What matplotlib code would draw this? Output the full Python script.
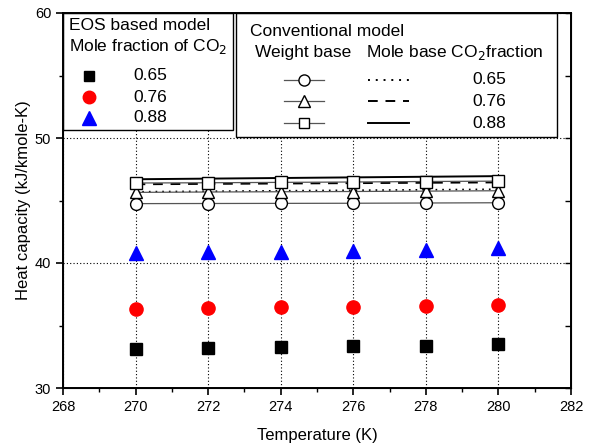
import numpy as np
import matplotlib.pyplot as plt
from matplotlib.patches import Rectangle
from matplotlib.lines import Line2D

plt.rcParams['font.family'] = ['Liberation Sans', 'DejaVu Sans']

temps = [270, 272, 274, 276, 278, 280]
fractions = ['0.65', '0.76', '0.88']

# EOS based model
eos_065 = [33.15, 33.2, 33.3, 33.35, 33.4, 33.5]
eos_076 = [36.3, 36.38, 36.45, 36.5, 36.6, 36.68]
eos_088 = [40.78, 40.85, 40.92, 41.0, 41.08, 41.17]

# Conventional model, weight base
wt_065 = [44.75, 44.76, 44.77, 44.78, 44.8, 44.82]
wt_076 = [45.65, 45.68, 45.7, 45.72, 45.75, 45.78]
wt_088 = [46.4, 46.42, 46.45, 46.48, 46.52, 46.55]

# Conventional model, mole base
mol_065 = [45.7, 45.74, 45.78, 45.82, 45.86, 45.9]
mol_076 = [46.3, 46.33, 46.36, 46.39, 46.42, 46.45]
mol_088 = [46.7, 46.75, 46.8, 46.85, 46.9, 46.95]


def main():
    fig = plt.figure(figsize=(5.89, 4.46), dpi=100)
    ax = fig.add_axes([63 / 589, 1 - 388 / 446, 508 / 589, 375 / 446])

    ax.set_xlim(268, 282)
    ax.set_ylim(30, 60)
    ax.set_xticks(np.arange(268, 283, 2))
    ax.set_xticks(np.arange(269, 282, 2), minor=True)
    ax.set_yticks([30, 40, 50, 60])
    ax.set_yticks([35, 45, 55], minor=True)
    ax.grid(True, which='major', linestyle=(0, (1, 2)), color='black', linewidth=0.8)
    ax.tick_params(which='major', direction='out', length=5, width=1.2, labelsize=10.5)
    ax.tick_params(which='minor', direction='out', length=3, width=1.0)
    for s in ax.spines.values():
        s.set_linewidth(1.4)
    ax.set_axisbelow(True)

    # inward ticks on the right edge
    ax2 = ax.twinx()
    ax2.set_ylim(30, 60)
    ax2.set_yticks([30, 40, 50, 60])
    ax2.set_yticks([35, 45, 55], minor=True)
    ax2.tick_params(which='both', direction='in', length=4, width=1.0,
                    labelright=False)

    ax.set_xlabel('Temperature (K)', fontsize=12, labelpad=10)
    ax.set_ylabel('Heat capacity (kJ/kmole-K)', fontsize=12, labelpad=3)

    # conventional model: mole base lines
    ax.plot(temps, mol_065, color='black', lw=1.2, linestyle=(0, (1, 3)))
    ax.plot(temps, mol_076, color='black', lw=1.4, linestyle=(0, (5, 4)))
    ax.plot(temps, mol_088, color='black', lw=1.4)

    # conventional model: weight base
    wkw = dict(color='#555555', lw=0.9, mfc='white', mec='black', mew=1.0)
    ax.plot(temps, wt_065, marker='o', ms=8.5, **wkw)
    ax.plot(temps, wt_076, marker='^', ms=9, **wkw)
    ax.plot(temps, wt_088, marker='s', ms=8, **wkw)

    # EOS based model
    ax.plot(temps, eos_065, 's', color='black', ms=8)
    ax.plot(temps, eos_076, 'o', color='red', ms=9.5)
    ax.plot(temps, eos_088, '^', color='blue', ms=10.5)

    # legend boxes drawn in axes fraction coords
    tr = ax.transAxes

    def fx(px):
        return (px - 63) / 508

    def fy(py):
        return (388 - py) / 375

    ax.add_patch(Rectangle((fx(63), fy(130)), fx(233) - fx(63), fy(13) - fy(130),
                           transform=tr, facecolor='white', edgecolor='black',
                           lw=1.0, zorder=5))
    ax.text(fx(69), fy(25), 'EOS based model', transform=tr, fontsize=12.5,
            va='center', zorder=6)
    ax.text(fx(69), fy(47), 'Mole fraction of CO$_2$', transform=tr, fontsize=12.5,
            va='center', zorder=6)
    eos_styles = [('s', 'black', 7.5), ('o', 'red', 9), ('^', 'blue', 10)]
    for (m, c, s), lab, py in zip(eos_styles, fractions, [76, 97, 118]):
        ax.add_line(Line2D([fx(89)], [fy(py)], marker=m, color=c, ms=s,
                           linestyle='none', transform=tr, zorder=6))
        ax.text(fx(133), fy(py), lab, transform=tr, fontsize=12.5,
                va='center', zorder=6)

    ax.add_patch(Rectangle((fx(236), fy(137)), fx(557) - fx(236), fy(13) - fy(137),
                           transform=tr, facecolor='white', edgecolor='black',
                           lw=1.0, zorder=5))
    ax.text(fx(250), fy(32), 'Conventional model', transform=tr, fontsize=12.5,
            va='center', zorder=6)
    ax.text(fx(255), fy(53), 'Weight base', transform=tr, fontsize=12.5,
            va='center', zorder=6)
    ax.text(fx(366), fy(53), 'Mole base CO$_2$fraction', transform=tr, fontsize=12.5,
            va='center', zorder=6)
    wmarks = [('o', 8), ('^', 8.5), ('s', 7)]
    mstyles = [(0, (1, 3)), (0, (5, 4)), '-']
    for (m, s), ls, lab, py in zip(wmarks, mstyles, fractions, [80, 101, 123]):
        ax.add_line(Line2D([fx(284), fx(324)], [fy(py), fy(py)], color='#555555',
                           lw=0.9, transform=tr, zorder=6))
        ax.add_line(Line2D([fx(304)], [fy(py)], marker=m, ms=s, mfc='white',
                           mec='black', mew=1.0, linestyle='none', transform=tr,
                           zorder=7))
        ax.add_line(Line2D([fx(368), fx(409)], [fy(py), fy(py)], color='black',
                           lw=1.4, linestyle=ls, transform=tr, zorder=6))
        ax.text(fx(472), fy(py), lab, transform=tr, fontsize=12.5,
                va='center', zorder=6)

    fig.savefig('out.png', dpi=100)


if __name__ == '__main__':
    main()
